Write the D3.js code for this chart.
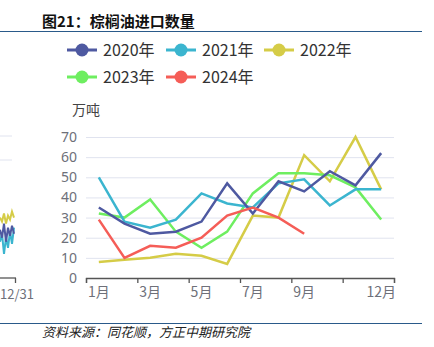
<!DOCTYPE html>
<html>
<head>
<meta charset="utf-8">
<script src="https://cdn.jsdelivr.net/npm/d3@7/dist/d3.min.js"></script>
<style>
  html, body { margin: 0; padding: 0; background: #fff; }
  svg { display: block; }
  text { font-family: "Noto Sans CJK SC", "Noto Sans", sans-serif; }
</style>
</head>
<body>
<script>
// ---------- data ----------
const months = [1,2,3,4,5,6,7,8,9,10,11,12];
const monthLabels = [1,3,5,7,9,12];
const yTicks = [0,10,20,30,40,50,60,70];
const seriesNames = ["2020年","2021年","2022年","2023年","2024年"];
const seriesColors = ["#4e59a1","#3bb5cf","#d5cc47","#6eee60","#f55d57"];
const v2020 = [35,27,22,23,28,47,32,48,43,53,46,62];
const v2021 = [50,28,25,29,42,37,35,47,49,36,44,44];
const v2022 = [8,9,10,12,11,7,31,30,61,48,70,44];
const v2023 = [32,30,39,23,15,23,42,52,52,51,45,29];
const v2024 = [29,10,16,15,20,31,35,30,22];
// partial neighbouring chart visible at the left edge
const fragX = [0,2,4,6,8,10,12,14];
const fragYellow = [30,28,32,27,31,29,33,30];
const fragNavy = [24,20,27,18,25,21,26,22];
const fragCyan = [18,22,12,20,15,23,17,25];
const fragColors = ["#3bb5cf","#4e59a1","#d5cc47"];

const W = 434, H = 347;
const svg = d3.select("body").append("svg").attr("width", W).attr("height", H);

// ---------- header / footer ----------
svg.append("text").attr("x", 42).attr("y", 27)
  .attr("font-size", 15).attr("font-weight", "bold").attr("fill", "#111")
  .text("图21：棕榈油进口数量");
svg.append("line").attr("x1", 0).attr("x2", 422).attr("y1", 31.5).attr("y2", 31.5)
  .attr("stroke", "#2a5a8a").attr("stroke-width", 1.2);
svg.append("line").attr("x1", 0).attr("x2", 422).attr("y1", 323.5).attr("y2", 323.5)
  .attr("stroke", "#2a5a8a").attr("stroke-width", 1.2);
svg.append("text").attr("x", 42).attr("y", 337)
  .attr("font-size", 13).attr("font-style", "italic").attr("fill", "#222")
  .text("资料来源：同花顺，方正中期研究院");

// ---------- scales ----------
const L = 86, R = 394, B = 278, T = 137;
const x = d3.scaleBand().domain(months).range([L, R]).padding(0);
const xB = d3.scaleLinear().domain([0, 12]).range([L, R]);
const y = d3.scaleLinear().domain([0, 70]).range([B, T]);
const cx = m => x(m) + x.bandwidth() / 2;

// grid
const grid = svg.append("g").attr("transform", `translate(${L},0)`)
  .call(d3.axisLeft(y).tickValues(yTicks.slice(1)).tickSize(-(R - L)).tickFormat(""));
grid.select(".domain").remove();
grid.selectAll("line").attr("stroke", "#e0e3ef").attr("stroke-width", 1);

// y labels
const ya = svg.append("g").attr("transform", `translate(${L},0)`)
  .call(d3.axisLeft(y).tickValues(yTicks).tickSize(0).tickPadding(9));
ya.select(".domain").remove();
ya.selectAll("text").attr("font-size", 14).attr("fill", "#6e7079")
  .style("font-family", '"Noto Sans", "Noto Sans CJK SC", sans-serif');

svg.append("text").attr("x", L).attr("y", 115).attr("text-anchor", "middle")
  .attr("font-size", 14).attr("fill", "#444").text("万吨");

// x axis ticks at band boundaries
const xt = svg.append("g").attr("transform", `translate(0,${B})`)
  .call(d3.axisBottom(xB).tickValues([0,2,4,6,8,10,12]).tickSize(5).tickFormat(""));
xt.select(".domain").attr("stroke", "#555").attr("stroke-width", 1.3);
xt.selectAll("line").attr("stroke", "#555").attr("stroke-width", 1.3);

const xl = svg.append("g").attr("transform", `translate(0,${B})`)
  .call(d3.axisBottom(x).tickValues(monthLabels).tickSize(0).tickPadding(9).tickFormat(m => m + "月"));
xl.select(".domain").remove();
xl.selectAll("text").attr("font-size", 14).attr("fill", "#6e7079");

// ---------- lines ----------
const allSeries = [v2020, v2021, v2022, v2023, v2024];
const line = d3.line().x((d, i) => cx(months[i])).y(d => y(d));
const drawOrder = [2, 3, 1, 0, 4];
drawOrder.forEach(k => {
  svg.append("path").datum(allSeries[k]).attr("d", line)
    .attr("fill", "none").attr("stroke", seriesColors[k]).attr("stroke-width", 2.5)
    .attr("stroke-linejoin", "miter");
});

// ---------- legend ----------
const legX = [67, 166, 264];
const legY = [50, 77];
seriesNames.forEach((n, i) => {
  const lx = legX[i % 3], ly = legY[Math.floor(i / 3)];
  const g = svg.append("g");
  g.append("line").attr("x1", lx).attr("x2", lx + 30).attr("y1", ly).attr("y2", ly)
    .attr("stroke", seriesColors[i]).attr("stroke-width", 3);
  g.append("circle").attr("cx", lx + 15).attr("cy", ly).attr("r", 6.5).attr("fill", seriesColors[i]);
  g.append("text").attr("x", lx + 36).attr("y", ly).attr("dy", "0.36em")
    .attr("font-size", 16).attr("fill", "#333").text(n);
});

// ---------- left fragment of neighbouring chart ----------
const fx = d3.scaleLinear().domain([0, 14]).range([0, 14]);
[136, 160].forEach(gy => {
  svg.append("line").attr("x1", 0).attr("x2", 12).attr("y1", gy).attr("y2", gy)
    .attr("stroke", "#e0e3ef");
});
const fline = d3.line().x((d, i) => fx(fragX[i])).y(d => y(d));
[fragCyan, fragNavy, fragYellow].forEach((s, k) => {
  svg.append("path").datum(s).attr("d", fline).attr("fill", "none")
    .attr("stroke", fragColors[k]).attr("stroke-width", 2);
});
svg.append("line").attr("x1", 0).attr("x2", 16).attr("y1", B).attr("y2", B)
  .attr("stroke", "#555").attr("stroke-width", 1.3);
svg.append("line").attr("x1", 15.5).attr("x2", 15.5).attr("y1", B).attr("y2", B + 5)
  .attr("stroke", "#555").attr("stroke-width", 1.3);
svg.append("text").attr("x", 0).attr("y", 299).attr("text-anchor", "start")
  .attr("font-size", 13).attr("fill", "#6e7079").text("12/31");
</script>
</body>
</html>
